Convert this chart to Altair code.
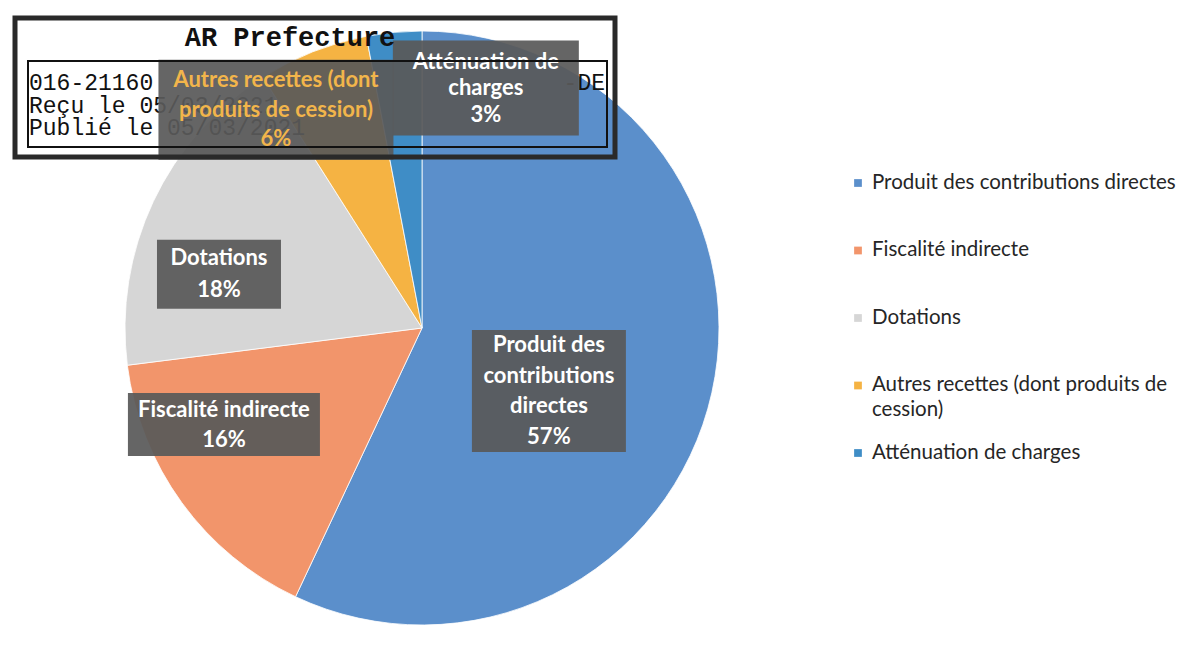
import math
import altair as alt
import pandas as pd

# ---------------- data ----------------
categories = [
    "Produit des contributions directes",
    "Fiscalité indirecte",
    "Dotations",
    "Autres recettes (dont produits de cession)",
    "Atténuation de charges",
]
shares = [57, 16, 18, 6, 3]
label_lines = [
    ["Produit des", "contributions", "directes"],
    ["Fiscalité indirecte"],
    ["Dotations"],
    ["Autres recettes (dont", "produits de cession)"],
    ["Atténuation de", "charges"],
]
legend_lines = [
    ["Produit des contributions directes"],
    ["Fiscalité indirecte"],
    ["Dotations"],
    ["Autres recettes (dont produits de", "cession)"],
    ["Atténuation de charges"],
]
stamp_title = "AR Prefecture"
stamp_lines = ["016-21160", "Reçu le 05/03/2021", "Publié le 05/03/2021"]
stamp_tail = "-DE"

# ---------------- styles ----------------
colors = ["#5B8FCB", "#F2956B", "#D6D6D6", "#F5B343", "#3F8DC6"]
label_text_colors = ["white", "white", "white", "#F2B54B", "white"]
W, H = 1178, 633
CX, CY, R = 414, 320, 297
FONT = "Lato"
# label placement: (radius fraction, angle offset from slice middle in degrees)
label_polar = [(0.477, 13.8), (0.742, 10.0), (0.707, -10.4), (0.884, -12.2), (0.836, 20.3)]
label_box = [(154, 122), (192, 63), (124, 69), (235, 100), (186, 95)]
label_line_h = [30.7, 30, 32, 29.5, 26.5]

# ---------------- derived tables ----------------
pie_df = pd.DataFrame({"cat": categories, "share": shares, "order": list(range(len(shares)))})

total = sum(shares)
rows = []
cum = 0.0
for i, v in enumerate(shares):
    mid = (cum + v / 2) / total * 360.0
    cum += v
    rf, doff = label_polar[i]
    a = math.radians(mid + doff)
    lx = CX + rf * R * math.sin(a)
    ly = CY - rf * R * math.cos(a)
    bw, bh = label_box[i]
    lines = label_lines[i] + [f"{v}%"]
    lh = label_line_h[i]
    rows.append({
        "cat": categories[i],
        "x0": lx - bw / 2, "x1": lx + bw / 2,
        "y0": ly - bh / 2, "y1": ly + bh / 2,
        "lx": lx, "ly": ly - (len(lines) - 1) * lh / 2,
        "txt": "\n".join(lines),
        "tcol": label_text_colors[i],
        "lh": lh,
    })
lab_df = pd.DataFrame(rows)

LEG_X, LEG_Y0, LEG_DY = 850, 175, 67.5
leg_df = pd.DataFrame({
    "cat": categories,
    "y": [LEG_Y0 + i * LEG_DY for i in range(len(categories))],
    "txt": ["\n".join(l) for l in legend_lines],
})

color_scale = alt.Scale(domain=categories, range=colors)

# ---------------- layers ----------------
pie = alt.Chart(pie_df).mark_arc(radius=R, stroke="white", strokeWidth=0.8).encode(
    theta=alt.Theta("share:Q", stack=True),
    order=alt.Order("order:Q"),
    color=alt.Color("cat:N", scale=color_scale, legend=None),
    x=alt.value(CX),
    y=alt.value(CY),
)

one = pd.DataFrame({"k": [0]})
stamp_l = alt.Chart(one).mark_text(
    font="Liberation Mono", fontSize=23, color="#111111", align="left", baseline="middle",
    lineBreak="\n", lineHeight=22.5, text="\n".join(stamp_lines),
).encode(x=alt.value(21), y=alt.value(75))
stamp_r = alt.Chart(one).mark_text(
    font="Liberation Mono", fontSize=23, color="#111111", align="right", baseline="middle",
    text=stamp_tail,
).encode(x=alt.value(597), y=alt.value(75))

boxes = alt.Chart(lab_df).mark_rect(fill="#595959", opacity=0.93).encode(
    x=alt.X("x0:Q", scale=None), x2="x1:Q",
    y=alt.Y("y0:Q", scale=None), y2="y1:Q",
)

texts = []
for i in range(len(rows)):
    texts.append(
        alt.Chart(lab_df.iloc[[i]]).mark_text(
            font=FONT, fontSize=22, fontWeight="bold", lineBreak="\n", lineHeight=rows[i]["lh"],
            align="center", baseline="middle", color=rows[i]["tcol"],
        ).encode(
            x=alt.X("lx:Q", scale=None), y=alt.Y("ly:Q", scale=None), text="txt:N"
        )
    )

stamp_outer = alt.Chart(one).mark_rect(fill="transparent", stroke="#2a2a2a", strokeWidth=5).encode(
    x=alt.value(7), x2=alt.value(607), y=alt.value(10), y2=alt.value(149))
stamp_inner = alt.Chart(one).mark_rect(fill="transparent", stroke="#111111", strokeWidth=2).encode(
    x=alt.value(20), x2=alt.value(599), y=alt.value(53), y2=alt.value(139))
stamp_t = alt.Chart(one).mark_text(
    font="Liberation Mono", fontSize=27, fontWeight="bold", color="#111111",
    align="center", baseline="middle", text=stamp_title,
).encode(x=alt.value(282), y=alt.value(30))

leg_sq = alt.Chart(leg_df).mark_square(size=60, opacity=1).encode(
    x=alt.value(LEG_X),
    y=alt.Y("y:Q", scale=None),
    color=alt.Color("cat:N", scale=color_scale, legend=None),
)
leg_tx = alt.Chart(leg_df).mark_text(
    font=FONT, fontSize=20.5, color="#262626", align="left", baseline="line-top",
    lineBreak="\n", lineHeight=25, dy=-12.5,
).encode(x=alt.value(LEG_X + 14), y=alt.Y("y:Q", scale=None), text="txt:N")

chart = alt.layer(
    pie, stamp_l, stamp_r, boxes, *texts, stamp_outer, stamp_inner, stamp_t, leg_sq, leg_tx
).properties(
    width=W, height=H, autosize=alt.AutoSizeParams(type="none"), padding=0,
    background="white",
).configure_view(stroke=None)

chart.save("out.html", embed_options={"renderer": "svg", "actions": False})
